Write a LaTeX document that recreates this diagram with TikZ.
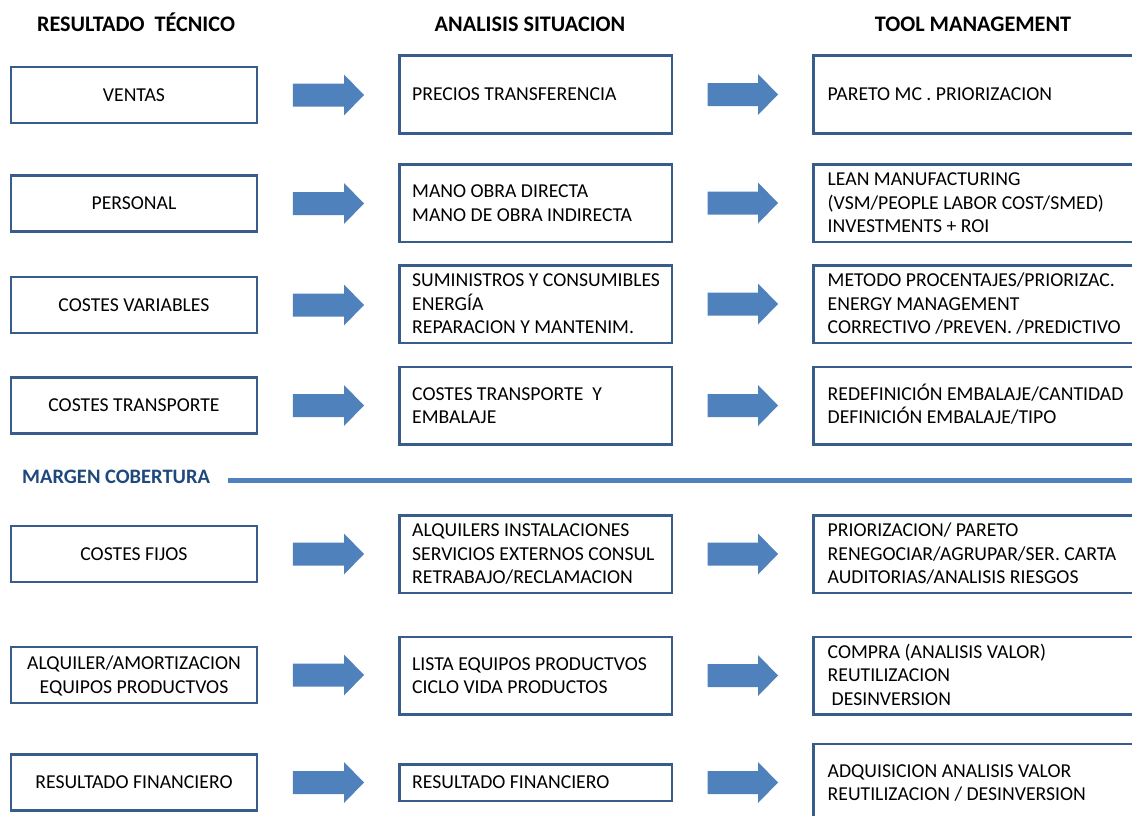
\documentclass[tikz,border=0pt]{standalone}
\usepackage{fontspec}
\setmainfont{Carlito}
\usetikzlibrary{calc}
\definecolor{boxline}{HTML}{385D8A}
\definecolor{arrowblue}{HTML}{4F81BD}
\definecolor{marginblue}{HTML}{1F497D}
% one line of box text: fixed ascent/descent so lines stack evenly
\newcommand\sline{\rule[-5.5pt]{0pt}{23.6pt}}
% block arrow from the east side of #1 to the west side of #2
\newcommand\blockarrow[2]{%
  \fill[arrowblue] let \p1=($(#1.east)+(34.5pt,0)$), \p2=($(#2.west)+(-34pt,0)$) in
    (\x1,\y1+11.5pt) -- (\x2-20pt,\y1+11.5pt) -- (\x2-20pt,\y1+20.5pt) -- (\x2,\y1)
    -- (\x2-20pt,\y1-20.5pt) -- (\x2-20pt,\y1-11.5pt) -- (\x1,\y1-11.5pt) -- cycle;}
\tikzset{
  box/.style={draw=boxline, line width=2.5pt, rectangle, inner sep=0pt},
  body/.style={font=\fontsize{19.7}{23.6}\selectfont, inner sep=0pt, text=black},
  cone/.style={box, body, align=center, minimum width=246pt, minimum height=56pt},
  ctwo/.style={box, minimum width=272.5pt, minimum height=77.5pt},
  cthree/.style={box, minimum width=335.5pt, minimum height=77.5pt},
  ltext/.style={body, align=left, anchor=west},
  head/.style={font=\bfseries\fontsize{22.2}{26}\selectfont, inner sep=0pt, anchor=base},
}
\begin{document}
\begin{tikzpicture}[x=1pt, y=-1pt]
\useasboundingbox (0,0) rectangle (1132,816);
\clip (0,0) rectangle (1132,816);
\fill[white] (0,0) rectangle (1132,816);

% column headings
\node[head] (h1) at (136,32) {RESULTADO\ \ TÉCNICO};
\node[head] (h2) at (530,32) {ANALISIS SITUACION};
\node[head] (h3) at (973,32) {TOOL MANAGEMENT};

% first column
\node[cone] (a1) at (134,95)    {\sline VENTAS};
\node[cone] (a2) at (134,203.5) {\sline PERSONAL};
\node[cone] (a3) at (134,305)   {\sline COSTES VARIABLES};
\node[cone] (a4) at (134,405.5) {\sline COSTES TRANSPORTE};
\node[cone] (a5) at (134,554)   {\sline COSTES FIJOS};
\node[cone] (a6) at (134,675)   {\sline ALQUILER/AMORTIZACION\\\sline EQUIPOS PRODUCTVOS};
\node[cone] (a7) at (134,782.5) {\sline RESULTADO FINANCIERO};

% second column
\node[ctwo] (b1) at (535.5,94.5)  {};
\node[ctwo] (b2) at (535.5,203)   {};
\node[ctwo] (b3) at (535.5,304)   {};
\node[ctwo] (b4) at (535.5,405.5) {};
\node[ctwo] (b5) at (535.5,554)   {};
\node[ctwo] (b6) at (535.5,675.5) {};
\node[ctwo, minimum height=36.5pt] (b7) at (535.5,782.5) {};

\node[ltext] (tb1) at ([xshift=14pt]b1.west) {\sline PRECIOS TRANSFERENCIA};
\node[ltext] (tb2) at ([xshift=14pt]b2.west) {\sline MANO OBRA DIRECTA\\\sline MANO DE OBRA INDIRECTA};
\node[ltext] (tb3) at ([xshift=14pt]b3.west) {\sline SUMINISTROS Y CONSUMIBLES\\\sline ENERGÍA\\\sline REPARACION Y MANTENIM.};
\node[ltext] (tb4) at ([xshift=14pt]b4.west) {\sline COSTES TRANSPORTE\ \ Y\\\sline EMBALAJE};
\node[ltext] (tb5) at ([xshift=14pt]b5.west) {\sline ALQUILERS INSTALACIONES\\\sline SERVICIOS EXTERNOS CONSUL\\\sline RETRABAJO/RECLAMACION};
\node[ltext] (tb6) at ([xshift=14pt]b6.west) {\sline LISTA EQUIPOS PRODUCTVOS\\\sline CICLO VIDA PRODUCTOS};
\node[ltext] (tb7) at ([xshift=14pt]b7.west) {\sline RESULTADO FINANCIERO};

% third column
\node[cthree] (c1) at (981,94.5)  {};
\node[cthree] (c2) at (981,203)   {};
\node[cthree] (c3) at (981,304)   {};
\node[cthree] (c4) at (981,405.5) {};
\node[cthree] (c5) at (981,554)   {};
\node[cthree] (c6) at (981,675.5) {};
\node[cthree] (c7) at (981,782.5) {};

\node[ltext] (tc1) at ([xshift=15.5pt]c1.west) {\sline PARETO MC . PRIORIZACION};
\node[ltext] (tc2) at ([xshift=15.5pt]c2.west) {\sline LEAN MANUFACTURING\\\sline (VSM/PEOPLE LABOR COST/SMED)\\\sline INVESTMENTS + ROI};
\node[ltext] (tc3) at ([xshift=15.5pt]c3.west) {\sline METODO PROCENTAJES/PRIORIZAC.\\\sline ENERGY MANAGEMENT\\\sline CORRECTIVO /PREVEN. /PREDICTIVO};
\node[ltext] (tc4) at ([xshift=15.5pt]c4.west) {\sline REDEFINICIÓN EMBALAJE/CANTIDAD\\\sline DEFINICIÓN EMBALAJE/TIPO};
\node[ltext] (tc5) at ([xshift=15.5pt]c5.west) {\sline PRIORIZACION/ PARETO\\\sline RENEGOCIAR/AGRUPAR/SER. CARTA\\\sline AUDITORIAS/ANALISIS RIESGOS};
\node[ltext] (tc6) at ([xshift=15.5pt]c6.west) {\sline COMPRA (ANALISIS VALOR)\\\sline REUTILIZACION\\\sline\hspace{4pt}DESINVERSION};
\node[ltext] (tc7) at ([xshift=15.5pt]c7.west) {\sline ADQUISICION ANALISIS VALOR\\\sline REUTILIZACION / DESINVERSION};

% arrows between the columns
\foreach \r in {1,...,7}{
  \blockarrow{a\r}{b\r}
  \blockarrow{b\r}{c\r}
}

% contribution margin divider
\node[font=\bfseries\fontsize{20.5}{24}\selectfont, text=marginblue, anchor=base west, inner sep=0pt]
  (mc) at (22,483.5) {MARGEN COBERTURA};
\coordinate (mcstart) at ($(mc.east)+(18pt,0)$);
\coordinate (mcend) at (1132,480.5);
\draw[arrowblue, line width=4.5pt] (mcstart |- mcend) -- (mcend);
\end{tikzpicture}
\end{document}
